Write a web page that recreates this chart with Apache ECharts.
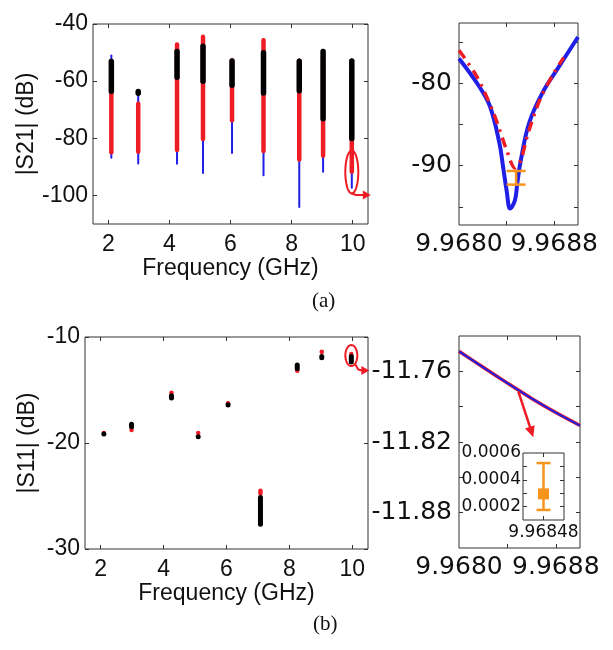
<!DOCTYPE html>
<html>
<head>
<meta charset="utf-8">
<script src="https://cdn.jsdelivr.net/npm/echarts@6/dist/echarts.min.js"></script>
<style>
  html, body { margin: 0; padding: 0; background: #fff; }
  #fig { width: 613px; height: 650px; }
</style>
</head>
<body>
<div id="fig"></div>
<script>
// measured frequencies (GHz)
var freqs = [2.1, 2.98, 4.25, 5.1, 6.05, 7.08, 8.25, 9.03, 9.97];

// |S21| ranges, panel (a)
var s21BlueHi  = [-50.7, -63.0, -47.0, -44.0, -52.0, -45.0, -52.1, -48.7, -52.0];
var s21BlueLo  = [-87.2, -89.2, -89.3, -92.5, -85.5, -93.3, -104.4, -92.1, -97.7];
var s21RedHi   = [-52.2, -67.1, -46.4, -43.7, -52.0, -44.9, -52.1, -51.0, -55.2];
var s21RedLo   = [-85.7, -85.5, -84.9, -81.0, -74.5, -85.2, -88.2, -86.9, -92.5];
var s21BlackHi = [-52.2, -62.7, -48.7, -46.8, -52.0, -49.1, -52.1, -48.7, -52.0];
var s21BlackLo = [-64.5, -65.2, -59.6, -61.0, -62.4, -65.1, -64.3, -74.1, -81.0];

// |S11| ranges, panel (b)
var s11RedHi   = [-18.9, -18.6, -15.1, -18.9, -16.1, -24.3, -12.9, -11.2, -11.4];
var s11RedLo   = [-19.2, -18.95, -15.4, -19.2, -16.4, -25.0, -13.4, -11.6, -11.8];
var s11BlackHi = [-19.0, -18.0, -15.3, -19.2, -16.3, -24.9, -12.4, -11.6, -11.6];
var s11BlackLo = [-19.3, -18.7, -16.0, -19.6, -16.5, -27.9, -13.2, -12.2, -12.6];

// zoom near 9.968 GHz, panel (a)
var zoomFreqBlue = [9.9680, 9.96817, 9.96826, 9.96834, 9.96837, 9.96840, 9.96843, 9.96847, 9.96849, 9.96852, 9.96859, 9.96870, 9.96884, 9.96900];
var zoomS21Blue  = [-77.0, -80.4, -82.8, -87.3, -90.1, -93.0, -95.2, -94.2, -92.1, -89.3, -84.8, -81.2, -78.0, -74.4];
var zoomFreqRed  = [9.9680, 9.96815, 9.96829, 9.96840, 9.96847, 9.96852, 9.96858, 9.96868, 9.96880, 9.96888];
var zoomS21Red   = [-76.0, -79.2, -83.6, -88.1, -90.3, -89.3, -86.1, -82.0, -78.7, -76.9];
var errS21 = [9.96848, -92.3, -90.65];

// zoom near 9.968 GHz, panel (b)
var zoomFreqB = [9.9680, 9.9682, 9.9684, 9.9686, 9.9688, 9.9690];
var zoomS11   = [-11.743, -11.7566, -11.770, -11.783, -11.795, -11.806];
var errS11 = [9.96848, 0.000175, 0.000525, 0.000295];

var C_RED = '#ee1c24', C_BLUE = '#1f1fe6', C_ORANGE = '#f7941d';
var SANS = 'Liberation Sans', WIDE = 'DejaVu Sans';

function rows(hi, lo) {
  return freqs.map(function (f, i) { return [f, hi[i], lo[i]]; });
}

function segSeries(grid, data, color, width) {
  return {
    type: 'custom', xAxisIndex: 2 * grid, yAxisIndex: 2 * grid,
    data: data, encode: { x: 0, y: [1, 2] },
    renderItem: function (params, api) {
      var a = api.coord([api.value(0), api.value(1)]);
      var b = api.coord([api.value(0), api.value(2)]);
      var h = width / 2;
      var y1 = a[1], y2 = b[1];
      if (y2 - y1 > width) { y1 += h; y2 -= h; } else { var m = (y1 + y2) / 2; y1 = m; y2 = m + 0.1; }
      return { type: 'line', shape: { x1: a[0], y1: y1, x2: b[0], y2: y2 },
        style: { stroke: color, lineWidth: width, lineCap: 'round' } };
    }
  };
}

function errSeries(grid, data, cap, square) {
  return {
    type: 'custom', xAxisIndex: 2 * grid, yAxisIndex: 2 * grid, z: 5,
    data: [data], encode: { x: 0, y: [1, 2] },
    renderItem: function (params, api) {
      var lo = api.coord([api.value(0), api.value(1)]);
      var hi = api.coord([api.value(0), api.value(2)]);
      var st = { stroke: C_ORANGE, lineWidth: 2.5 };
      var kids = [
        { type: 'line', shape: { x1: lo[0], y1: lo[1], x2: hi[0], y2: hi[1] }, style: st },
        { type: 'line', shape: { x1: lo[0] - cap, y1: lo[1], x2: lo[0] + cap, y2: lo[1] }, style: st },
        { type: 'line', shape: { x1: hi[0] - cap, y1: hi[1], x2: hi[0] + cap, y2: hi[1] }, style: st }
      ];
      if (square) {
        var m = api.coord([api.value(0), api.value(3)]);
        kids.push({ type: 'rect', shape: { x: m[0] - 5.5, y: m[1] - 5.5, width: 11, height: 11 }, style: { fill: C_ORANGE } });
      }
      return { type: 'group', children: kids };
    }
  };
}

// one primary (labelled) axis plus its mirrored partner for the box ticks
function axisPair(grid, dim, min, max, ticks, labels, fmt, font, size, margin, name, gap) {
  var pos = dim === 'x' ? ['bottom', 'top'] : ['left', 'right'];
  var base = {
    gridIndex: grid, type: 'value', min: min, max: max,
    axisLine: { show: false }, splitLine: { show: false },
    axisTick: { inside: true, length: 4, customValues: ticks, lineStyle: { color: '#333', width: 1 } }
  };
  var main = Object.assign({}, base, {
    position: pos[0],
    axisLabel: { customValues: labels, formatter: fmt, fontFamily: font, fontSize: size, color: '#111', margin: margin, hideOverlap: false }
  });
  if (name) {
    main.name = name; main.nameLocation = 'middle'; main.nameGap = gap;
    main.nameTextStyle = { fontFamily: SANS, fontSize: 23, color: '#111' };
  }
  var mirror = Object.assign({}, base, { position: pos[1], axisLabel: { show: false } });
  return [main, mirror];
}

function fixed(n) { return function (v) { return v.toFixed(n); }; }

var grids = [
  { left: 93, top: 24, width: 275, height: 200 },
  { left: 459, top: 23, width: 119, height: 202 },
  { left: 85, top: 337, width: 283, height: 212 },
  { left: 459, top: 336, width: 121, height: 212 },
  { left: 523, top: 453, width: 41, height: 67, backgroundColor: '#fff' }
].map(function (g) {
  return Object.assign({ show: true, borderColor: '#333', borderWidth: 1, containLabel: false }, g);
});

var xAxes = [].concat(
  axisPair(0, 'x', 1.5, 10.5, [2, 4, 6, 8, 10], [2, 4, 6, 8, 10], fixed(0), SANS, 23, 9, 'Frequency (GHz)', 31),
  axisPair(1, 'x', 9.9680, 9.9690, [9.9684, 9.9688], [9.9680, 9.9688], fixed(4), WIDE, 25, 7),
  axisPair(2, 'x', 1.5, 10.5, [2, 4, 6, 8, 10], [2, 4, 6, 8, 10], fixed(0), SANS, 23, 9, 'Frequency (GHz)', 31),
  axisPair(3, 'x', 9.9680, 9.9690, [9.9684, 9.9688], [9.9680, 9.9688], fixed(4), WIDE, 25, 7),
  axisPair(4, 'x', 9.96844, 9.96852, [9.96848], [9.96848], fixed(5), WIDE, 17, 4)
);
var yAxes = [].concat(
  axisPair(0, 'y', -110, -40, [-100, -80, -60, -40], [-100, -80, -60, -40], fixed(0), SANS, 23, 5, '|S21| (dB)', 52),
  axisPair(1, 'y', -97.2, -72.7, [-95, -90, -85, -80, -75], [-90, -80], fixed(0), WIDE, 25, 7),
  axisPair(2, 'y', -30, -10, [-30, -20, -10], [-30, -20, -10], fixed(0), SANS, 23, 5, '|S11| (dB)', 46),
  axisPair(3, 'y', -11.91, -11.73, [-11.88, -11.85, -11.82, -11.79, -11.76], [-11.88, -11.82, -11.76], fixed(2), WIDE, 25, 7),
  axisPair(4, 'y', 0.0001, 0.0006, [0.0002, 0.0003, 0.0004, 0.0005], [0.0002, 0.0004, 0.0006], fixed(4), WIDE, 17, 2)
);

function pairs(xs, ys) { return xs.map(function (x, i) { return [x, ys[i]]; }); }

var series = [
  segSeries(0, rows(s21BlueHi, s21BlueLo), C_BLUE, 2),
  segSeries(0, rows(s21RedHi, s21RedLo), C_RED, 4.5),
  segSeries(0, rows(s21BlackHi, s21BlackLo), '#000', 5.5),
  { type: 'line', xAxisIndex: 2, yAxisIndex: 2, data: pairs(zoomFreqBlue, zoomS21Blue), smooth: 0.4,
    showSymbol: false, lineStyle: { color: C_BLUE, width: 4 } },
  { type: 'line', xAxisIndex: 2, yAxisIndex: 2, data: pairs(zoomFreqRed, zoomS21Red), smooth: 0.3,
    showSymbol: false, lineStyle: { color: C_RED, width: 3.5, type: [10, 6, 2.5, 6] } },
  errSeries(1, errS21, 9.5, false),
  segSeries(2, freqs.map(function (f, i) { return [f, s11RedHi[i], s11RedLo[i]]; }), C_RED, 4.5),
  segSeries(2, freqs.map(function (f, i) { return [f, s11BlackHi[i], s11BlackLo[i]]; }), '#000', 5),
  { type: 'line', xAxisIndex: 6, yAxisIndex: 6, data: pairs(zoomFreqB, zoomS11), smooth: 0.3,
    showSymbol: false, lineStyle: { color: C_RED, width: 3.5 } },
  { type: 'line', xAxisIndex: 6, yAxisIndex: 6, data: pairs(zoomFreqB, zoomS11), smooth: 0.3,
    showSymbol: false, lineStyle: { color: C_BLUE, width: 2 } },
  errSeries(4, errS11, 7, true)
];

var chart = echarts.init(document.getElementById('fig'), null, { renderer: 'canvas' });
chart.setOption({
  backgroundColor: '#fff',
  animation: false,
  grid: grids,
  xAxis: xAxes,
  yAxis: yAxes,
  series: series
});

// annotations: red ellipses and arrows, panel labels
function ellipsePts(cx, cy, rx, ry) {
  var pts = [];
  for (var k = 0; k <= 48; k++) {
    var t = k / 48 * Math.PI * 2;
    pts.push([cx + rx * Math.cos(t), cy + ry * Math.sin(t)]);
  }
  return pts;
}
function arrowHead(tip, ang, len, half) {
  var ca = Math.cos(ang), sa = Math.sin(ang);
  var bx = tip[0] - len * ca, by = tip[1] - len * sa;
  return { type: 'polygon', shape: { points: [tip, [bx - half * sa, by + half * ca], [bx + half * sa, by - half * ca]] },
    style: { fill: C_RED }, z: 20 };
}
var red2 = { stroke: C_RED, lineWidth: 2, fill: null };

var eA = chart.convertToPixel({ xAxisIndex: 0, yAxisIndex: 0 }, [freqs[8], -91.8]);
var eB = chart.convertToPixel({ xAxisIndex: 4, yAxisIndex: 4 }, [freqs[8], -11.75]);
var pB0 = chart.convertToPixel({ xAxisIndex: 6, yAxisIndex: 6 }, [9.96849, -11.777]);
var pB1 = [pB0[0] + 15, pB0[1] + 46];

chart.setOption({
  graphic: [
    { type: 'polyline', shape: { points: ellipsePts(eA[0], eA[1], 6.5, 21.5) }, style: red2, z: 20 },
    { type: 'polyline', shape: { points: [[eA[0], eA[1] + 21.5], [eA[0] + 4, eA[1] + 23], [eA[0] + 12, eA[1] + 23]] }, style: red2, z: 20 },
    arrowHead([eA[0] + 19, eA[1] + 23], 0, 8, 4.5),
    { type: 'polyline', shape: { points: ellipsePts(eB[0], eB[1], 6, 10.5) }, style: red2, z: 20 },
    { type: 'polyline', shape: { points: [[eB[0] + 4, eB[1] + 9], [eB[0] + 7, eB[1] + 14], [eB[0] + 11, eB[1] + 15]] }, style: red2, z: 20 },
    arrowHead([eB[0] + 18, eB[1] + 15], 0, 8, 4.5),
    { type: 'line', shape: { x1: pB0[0], y1: pB0[1], x2: pB1[0] - 2.5, y2: pB1[1] - 8 }, style: { stroke: C_RED, lineWidth: 2.5 }, z: 20 },
    arrowHead(pB1, Math.atan2(46, 15), 11, 5),
    { type: 'text', left: 312, top: 291, style: { text: '(a)', font: '21px "Liberation Serif"', fill: '#111' } },
    { type: 'text', left: 313, top: 614, style: { text: '(b)', font: '21px "Liberation Serif"', fill: '#111' } }
  ]
});
</script>
</body>
</html>
